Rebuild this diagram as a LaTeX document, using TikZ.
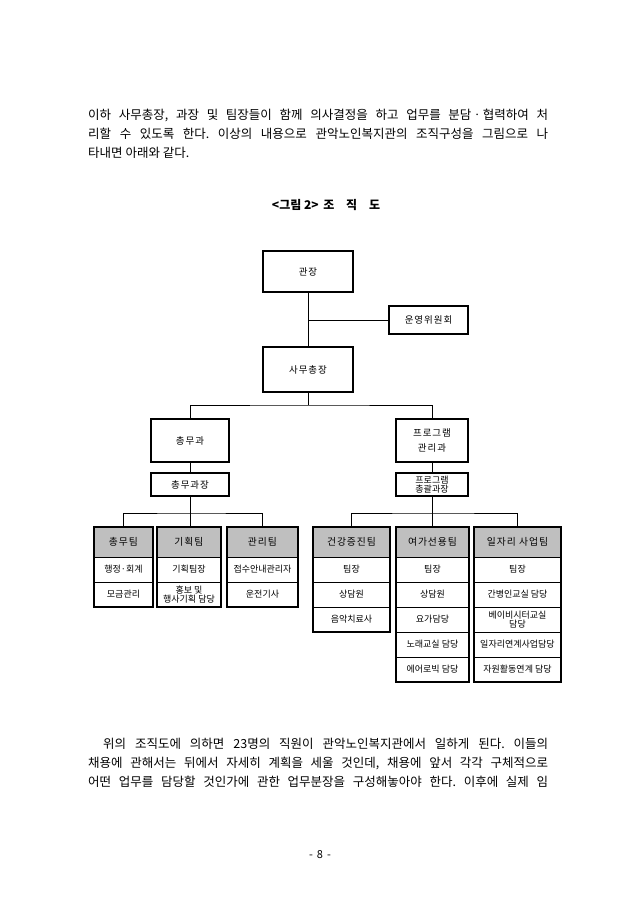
\documentclass[tikz,border=0pt]{standalone}
\usepackage{fontspec}
\setmainfont{Noto Sans CJK KR}
\newfontfamily\spaced[LetterSpace=10]{Noto Sans CJK KR}
\usetikzlibrary{positioning}
\frenchspacing

\begin{document}
\begin{tikzpicture}[x=1pt,y=-1pt,
  mainbox/.style={draw, line width=1.6pt, minimum width=90pt, minimum height=41pt,
    align=center, font=\spaced\fontsize{9.5}{15}\selectfont},
  subbox/.style={draw, line width=1.2pt, minimum height=23pt, inner sep=1pt,
    align=center, font=\spaced\fontsize{9.5}{11}\selectfont},
  teamhead/.style={draw, line width=0.6pt, fill=black!25, minimum height=30pt,
    outer sep=0pt, font=\spaced\fontsize{9.8}{11}\selectfont},
  teamcell/.style={draw, line width=0.6pt, minimum height=25pt, inner sep=0.5pt,
    outer sep=0pt, align=center, font=\fontsize{9}{8.5}\selectfont},
  frame/.style={line width=1.6pt},
  link/.style={line width=0.7pt},
  body/.style={anchor=west, inner sep=0pt, font=\fontsize{12.5}{14}\selectfont}]
\fill[white] (0,0) rectangle (640,905);
\useasboundingbox (0,0) rectangle (640,905);

% text above
\node[body] (para1) at (88,115) {\makebox[460pt][s]{이하 사무총장, 과장 및 팀장들이 함께 의사결정을 하고 업무를 분담ㆍ협력하여 처}};
\node[body] (para2) at (88,134) {\makebox[460pt][s]{리할 수 있도록 한다. 이상의 내용으로 관악노인복지관의 조직구성을 그림으로 나}};
\node[body] (para3) at (88,153) {타내면 아래와 같다.};
\node[font=\bfseries\fontsize{12}{14}\selectfont] (caption) at (326,205) {<그림 2>\hspace{2pt} 조\hspace{9pt} 직\hspace{9pt} 도};

% upper boxes
\node[mainbox] (director) at (308,271.5) {관장};
\node[subbox, minimum width=79pt, minimum height=28pt] (committee) at (428.5,320) {운영위원회};
\node[mainbox, minimum height=45pt] (secgen) at (308,369.5) {사무총장};
\node[mainbox, minimum width=78pt, minimum height=43pt] (admin) at (190,440.5) {총무과};
\node[mainbox, minimum width=72pt, minimum height=43pt] (program) at (432,440.5) {프로그램\\관리과};
\node[subbox, minimum width=78pt] (adminhead) at (190,484.5) {총무과장};
\node[subbox, minimum width=72pt, font=\fontsize{9}{8.5}\selectfont] (programhead) at (432,484.5) {프로그램\\총괄과장};

\coordinate (cmtjoin) at (308,320);
\coordinate (gwabus) at (308,405);
\draw[link] (director) -- (secgen);
\draw[link] (cmtjoin) -- (committee);
\draw[link] (secgen) -- (gwabus);
\draw[link] (admin.north) |- (gwabus) -| (program.north);
\draw[link] (admin) -- (adminhead);
\draw[link] (program) -- (programhead);

% teams of 총무과
\node[teamhead, minimum width=59pt] (chongmu) at (123.5,542) {총무팀};
\node[teamcell, minimum width=59pt, below=0pt of chongmu] (chongmu1) {행정·회계};
\node[teamcell, minimum width=59pt, below=0pt of chongmu1] (chongmu2) {모금관리};
\draw[frame] (chongmu.north west) rectangle (chongmu2.south east);

\node[teamhead, minimum width=64pt] (kihoek) at (189,542) {기획팀};
\node[teamcell, minimum width=64pt, below=0pt of kihoek] (kihoek1) {기획팀장};
\node[teamcell, minimum width=64pt, below=0pt of kihoek1] (kihoek2) {홍보 및\\행사기획 담당};
\draw[frame] (kihoek.north west) rectangle (kihoek2.south east);

\node[teamhead, minimum width=71pt] (gwanri) at (262.5,542) {관리팀};
\node[teamcell, minimum width=71pt, below=0pt of gwanri] (gwanri1) {접수안내관리자};
\node[teamcell, minimum width=71pt, below=0pt of gwanri1] (gwanri2) {운전기사};
\draw[frame] (gwanri.north west) rectangle (gwanri2.south east);

% teams of 프로그램관리과
\node[teamhead, minimum width=77pt] (geongang) at (351.5,542) {건강증진팀};
\node[teamcell, minimum width=77pt, below=0pt of geongang] (geongang1) {팀장};
\node[teamcell, minimum width=77pt, below=0pt of geongang1] (geongang2) {상담원};
\node[teamcell, minimum width=77pt, below=0pt of geongang2] (geongang3) {음악치료사};
\draw[frame] (geongang.north west) rectangle (geongang3.south east);

\node[teamhead, minimum width=73pt] (yeoga) at (432.5,542) {여가선용팀};
\node[teamcell, minimum width=73pt, below=0pt of yeoga] (yeoga1) {팀장};
\node[teamcell, minimum width=73pt, below=0pt of yeoga1] (yeoga2) {상담원};
\node[teamcell, minimum width=73pt, below=0pt of yeoga2] (yeoga3) {요가담당};
\node[teamcell, minimum width=73pt, below=0pt of yeoga3] (yeoga4) {노래교실 담당};
\node[teamcell, minimum width=73pt, below=0pt of yeoga4] (yeoga5) {에어로빅 담당};
\draw[frame] (yeoga.north west) rectangle (yeoga5.south east);

\node[teamhead, minimum width=87pt] (ilja) at (517.5,542) {일자리 사업팀};
\node[teamcell, minimum width=87pt, below=0pt of ilja] (ilja1) {팀장};
\node[teamcell, minimum width=87pt, below=0pt of ilja1] (ilja2) {간병인교실 담당};
\node[teamcell, minimum width=87pt, below=0pt of ilja2] (ilja3) {베이비시터교실\\담당};
\node[teamcell, minimum width=87pt, below=0pt of ilja3] (ilja4) {일자리연계사업담당};
\node[teamcell, minimum width=87pt, below=0pt of ilja4] (ilja5) {자원활동연계 담당};
\draw[frame] (ilja.north west) rectangle (ilja5.south east);

\coordinate (leftbus) at (190,513);
\coordinate (rightbus) at (432,513);
\draw[link] (chongmu.north) |- (leftbus) -| (gwanri.north);
\draw[link] (adminhead.south) -- (adminhead.south |- kihoek.north);
\draw[link] (geongang.north) |- (rightbus) -| (ilja.north);
\draw[link] (programhead.south) -- (programhead.south |- yeoga.north);

% text below
\node[body] (para4) at (103,744) {\makebox[445pt][s]{위의 조직도에 의하면 23명의 직원이 관악노인복지관에서 일하게 된다. 이들의}};
\node[body] (para5) at (88,763) {\makebox[460pt][s]{채용에 관해서는 뒤에서 자세히 계획을 세울 것인데, 채용에 앞서 각각 구체적으로}};
\node[body] (para6) at (88,782) {\makebox[460pt][s]{어떤 업무를 담당할 것인가에 관한 업무분장을 구성해놓아야 한다. 이후에 실제 임}};
\node[font=\fontsize{11}{12}\selectfont] (pageno) at (320,855) {-\hspace{4pt}8\hspace{4pt}-};
\end{tikzpicture}
\end{document}
